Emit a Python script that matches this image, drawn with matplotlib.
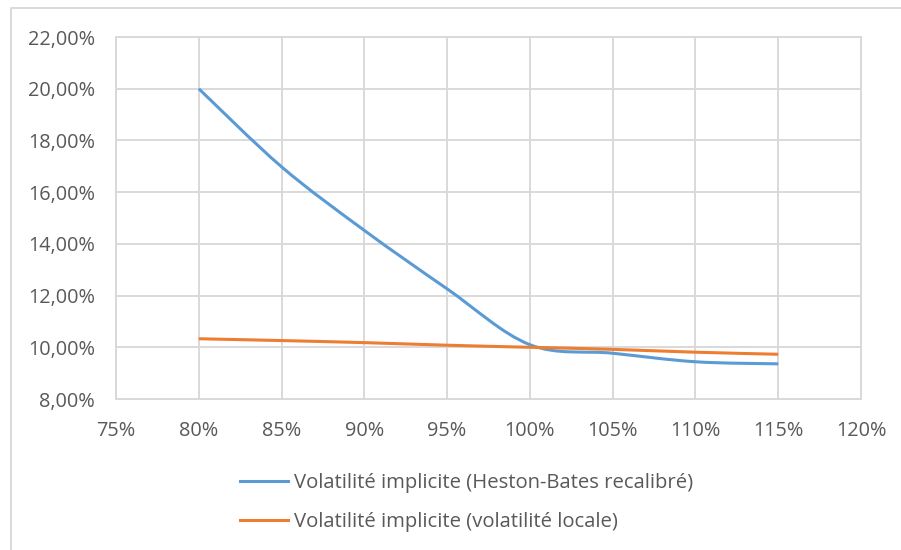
import numpy as np
import matplotlib
matplotlib.use("Agg")
import matplotlib.pyplot as plt
from matplotlib.path import Path
from matplotlib.patches import PathPatch
from matplotlib.lines import Line2D
from matplotlib.ticker import FuncFormatter, MultipleLocator

plt.rcParams['font.family'] = ['Open Sans', 'DejaVu Sans']

# Strike (moneyness) and implied volatilities, in percent
strikes = [80, 85, 90, 95, 100, 105, 110, 115]
vol_heston_bates = [20.00, 16.98, 14.52, 12.26, 10.10, 9.77, 9.44, 9.36]
vol_locale = [10.33, 10.26, 10.18, 10.08, 10.00, 9.92, 9.81, 9.73]

labels = ["Volatilité implicite (Heston-Bates recalibré)",
          "Volatilité implicite (volatilité locale)"]
colors = ["#5B9BD5", "#ED7D31"]

GRID = "#D9D9D9"
TXT = "#595959"
FS = 14.3


def smooth_path(x, y):
    """Spreadsheet-style smoothed polyline as cubic Bezier segments."""
    pts = np.column_stack([x, y]).astype(float)
    n = len(pts)
    verts = [pts[0]]
    codes = [Path.MOVETO]
    for i in range(n - 1):
        p0 = pts[i - 1] if i > 0 else pts[i]
        p1 = pts[i]
        p2 = pts[i + 1]
        p3 = pts[i + 2] if i + 2 < n else pts[i + 1]
        c1 = p1 + (p2 - p0) / 6.0
        c2 = p2 - (p3 - p1) / 6.0
        verts += [c1, c2, p2]
        codes += [Path.CURVE4] * 3
    return Path(verts, codes)


fig = plt.figure(figsize=(9.01, 5.5), dpi=100)
ax = fig.add_axes([116 / 901, 1 - 399 / 550, (861 - 116) / 901, (399 - 37) / 550])

for ys, c in zip([vol_heston_bates, vol_locale], colors):
    patch = PathPatch(smooth_path(strikes, ys), facecolor="none", edgecolor=c,
                      lw=2.2, capstyle="butt", joinstyle="round", zorder=3)
    ax.add_patch(patch)

ax.set_xlim(75, 120)
ax.set_ylim(8, 22)
ax.xaxis.set_major_locator(MultipleLocator(5))
ax.yaxis.set_major_locator(MultipleLocator(2))
ax.xaxis.set_major_formatter(FuncFormatter(lambda v, p: f"{v:.0f}%"))
ax.yaxis.set_major_formatter(FuncFormatter(lambda v, p: f"{v:.2f}%".replace(".", ",")))

ax.grid(True, color=GRID, lw=1.4, zorder=0)
ax.set_axisbelow(True)
for s in ax.spines.values():
    s.set_color(GRID)
    s.set_linewidth(1.4)
ax.tick_params(axis="both", length=0, labelsize=FS, colors=TXT)
ax.tick_params(axis="x", pad=16)
ax.tick_params(axis="y", pad=15)

# Legend below the plot
handles = [Line2D([], [], color=c, lw=2.2) for c in colors]
fig.legend(handles, labels, loc="upper left", bbox_to_anchor=(222 / 901, 1 - 455 / 550),
           frameon=False, fontsize=14.6, labelcolor=TXT, handlelength=2.35,
           handletextpad=0.28, labelspacing=0.92)

# Chart frame (top and left edges)
fig.add_artist(Line2D([10.5 / 901, 10.5 / 901, 1.0], [0.0, 1 - 8 / 550, 1 - 8 / 550],
                      transform=fig.transFigure, color=GRID, lw=1.4))

fig.savefig("out.png", dpi=100)
